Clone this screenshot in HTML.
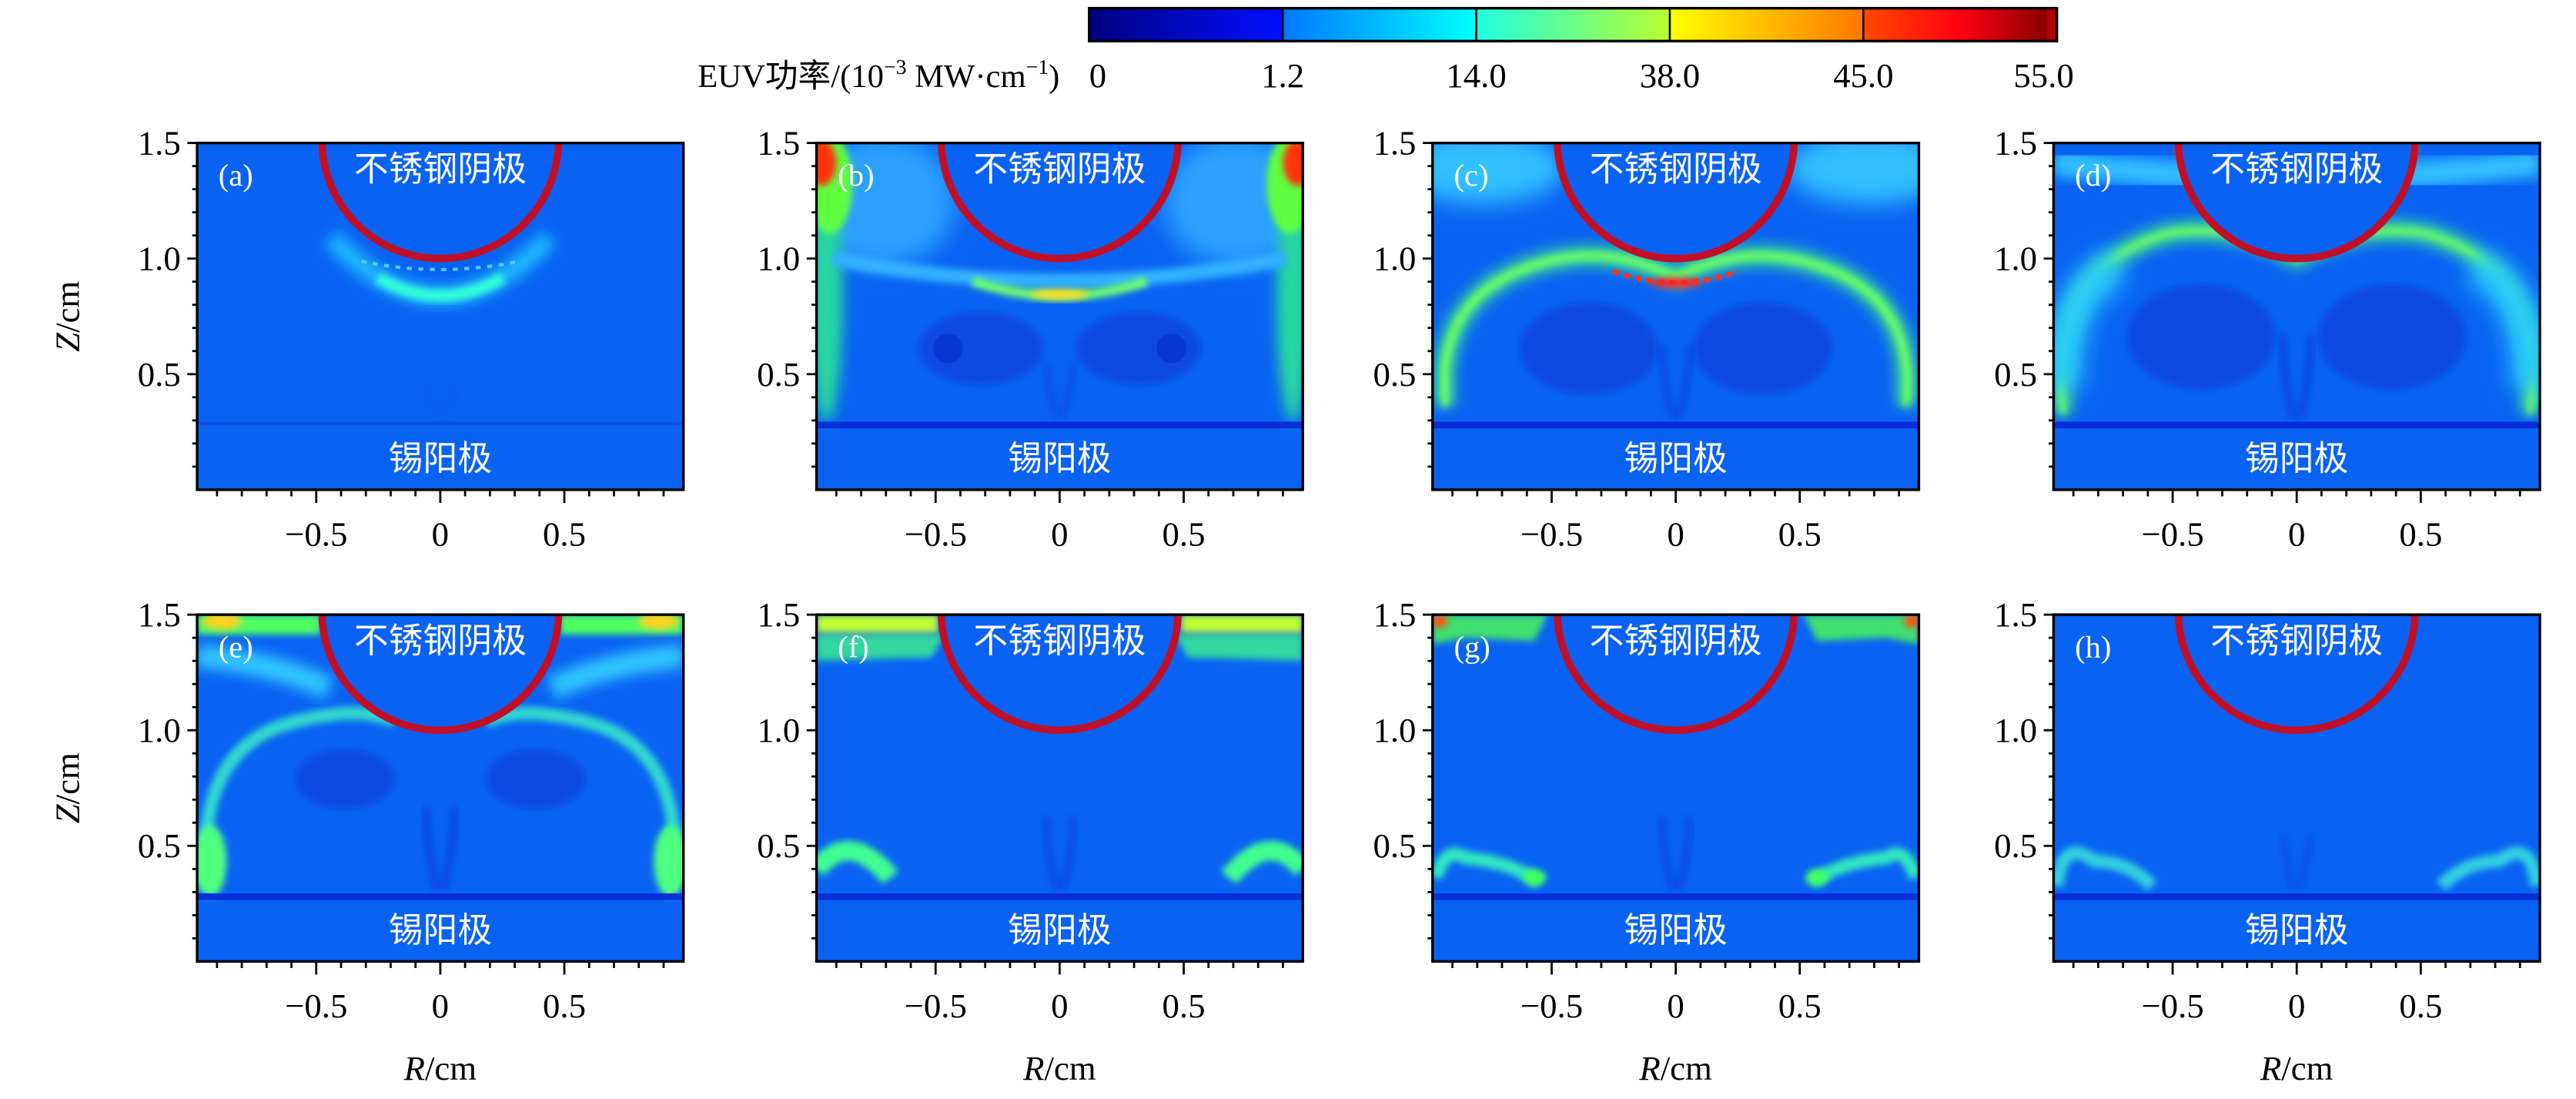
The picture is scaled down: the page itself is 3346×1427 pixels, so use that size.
<!DOCTYPE html>
<html><head><meta charset="utf-8"><style>
html,body{margin:0;padding:0;background:#fff;}
svg{display:block;}
text{font-family:"Liberation Serif","Noto Serif CJK SC",serif;}
.cjk{font-family:"Liberation Sans","Noto Sans CJK SC",sans-serif;}
</style></head><body>
<svg id="fig" width="3346" height="1427" viewBox="0 0 1568 668.7" preserveAspectRatio="none" xmlns="http://www.w3.org/2000/svg">
<defs>
<filter id="b2" x="-50%" y="-50%" width="200%" height="200%"><feGaussianBlur stdDeviation="2"/></filter>
<filter id="b4" x="-50%" y="-50%" width="200%" height="200%"><feGaussianBlur stdDeviation="4"/></filter>
<filter id="b7" x="-50%" y="-50%" width="200%" height="200%"><feGaussianBlur stdDeviation="7"/></filter>
<linearGradient id="cbg" x1="0" x2="1" y1="0" y2="0">
<stop offset="0" stop-color="#000080"/><stop offset="0.2" stop-color="#0010ff"/>
<stop offset="0.2" stop-color="#0078ff"/><stop offset="0.4" stop-color="#00ffff"/>
<stop offset="0.4" stop-color="#20ffe0"/><stop offset="0.6" stop-color="#b8ff30"/>
<stop offset="0.6" stop-color="#ffff00"/><stop offset="0.8" stop-color="#ff7800"/>
<stop offset="0.8" stop-color="#ff4a00"/><stop offset="0.9" stop-color="#ff0010"/><stop offset="0.99" stop-color="#880000"/>
<stop offset="0.99" stop-color="#b00000"/><stop offset="1" stop-color="#b00000"/>
</linearGradient>
</defs>
<g id="colorbar"></g>
<g id="panels"></g>
</svg>
<script>
const NS="http://www.w3.org/2000/svg";
const cbTicks=["0","1.2","14.0","38.0","45.0","55.0"];
const panelLabels=["(a)","(b)","(c)","(d)","(e)","(f)","(g)","(h)"];
const zTicks=[0.5,1.0,1.5];
const zTickLabels=["0.5","1.0","1.5"];
const rTicks=[-0.5,0,0.5];
const rTickLabels=["\u22120.5","0","0.5"];
const zRange=[0,1.5];
const rRange=[-0.98,0.98];
const cathodeBottomZ=1.0;
const anodeZ=0.28;

const colX=[120,497,872,1250], rowY=[87,374], W=296, H=211;
function sx(r){return (r-rRange[0])/(rRange[1]-rRange[0])*W;}
function sy(z){return (zRange[1]-z)/(zRange[1]-zRange[0])*H;}
function el(tag,attrs,parent){const e=document.createElementNS(NS,tag);for(const k in attrs)e.setAttribute(k,attrs[k]);if(parent)parent.appendChild(e);return e;}

const cb=document.getElementById('colorbar');
const cbx=663,cbw=589,cby=5,cbh=20;
const cbRect=el('rect',{x:cbx,y:cby,width:cbw,height:cbh,fill:'url(#cbg)',stroke:'#000','stroke-width':1.6},cb);


cbTicks.forEach((t,i)=>{
  const x=cbx+i*cbw/5;
  if(i>0&&i<5){const l=el('line',{x1:x,x2:x,y1:cby,y2:cby+cbh,stroke:'#000','stroke-width':1.2},cb);
    
    }
  const tx=el('text',{x:i==5?x-8:x,y:53,'font-size':21,'text-anchor':i==0?'start':'middle'},cb);
  tx.textContent=t;
  
  
});
const cbl=el('text',{x:645,y:53,'font-size':20,'text-anchor':'end'},cb);
cbl.innerHTML='EUV<tspan class="cjk">功率</tspan>/(10<tspan font-size="13" dy="-8">\u22123</tspan><tspan dy="8"> MW\u00b7cm</tspan><tspan font-size="13" dy="-8">\u22121</tspan><tspan dy="8">)</tspan>';



const feats=[
`<path d="M82 58 Q148 128 214 58" stroke="#1ab8ff" stroke-width="12" fill="none" filter="url(#b4)"/>
<path d="M110 82 Q148 104 186 82" stroke="#30ffd8" stroke-width="7" fill="none" filter="url(#b2)"/>
<path d="M100 72 Q148 82 196 72" stroke="#5ac8ff" stroke-width="2" fill="none" stroke-dasharray="3 4"/>`,
`<ellipse cx="40" cy="35" rx="45" ry="40" fill="#2aa0ff" filter="url(#b7)"/><ellipse cx="256" cy="35" rx="45" ry="40" fill="#2aa0ff" filter="url(#b7)"/>
<ellipse cx="6" cy="95" rx="10" ry="75" fill="#28d8a0" filter="url(#b4)"/><ellipse cx="290" cy="95" rx="10" ry="75" fill="#28d8a0" filter="url(#b4)"/>
<ellipse cx="8" cy="25" rx="14" ry="30" fill="#60ff40" filter="url(#b2)"/><ellipse cx="288" cy="25" rx="14" ry="30" fill="#60ff40" filter="url(#b2)"/>
<ellipse cx="3" cy="12" rx="9" ry="14" fill="#ff3010" filter="url(#b2)"/><ellipse cx="293" cy="12" rx="9" ry="14" fill="#ff3010" filter="url(#b2)"/>
<path d="M10 70 Q148 98 286 70" stroke="#30b0ff" stroke-width="9" fill="none" filter="url(#b2)"/>
<path d="M95 84 Q148 102 201 84" stroke="#70ff70" stroke-width="6" fill="none" filter="url(#b2)"/>
<ellipse cx="148" cy="92" rx="18" ry="3" fill="#ffe020" filter="url(#b2)"/>
<ellipse cx="100" cy="125" rx="38" ry="22" fill="#0a48e0" filter="url(#b2)"/><ellipse cx="196" cy="125" rx="38" ry="22" fill="#0a48e0" filter="url(#b2)"/>
<ellipse cx="80" cy="125" rx="9" ry="9" fill="#0836d0"/><ellipse cx="216" cy="125" rx="9" ry="9" fill="#0836d0"/>`,
`<ellipse cx="30" cy="15" rx="50" ry="22" fill="#30c0ff" filter="url(#b7)"/><ellipse cx="266" cy="15" rx="50" ry="22" fill="#30c0ff" filter="url(#b7)"/>
<path d="M8 160 Q0 90 70 72 Q110 62 148 82 Q186 62 226 72 Q296 90 288 160" stroke="#40e090" stroke-width="12" fill="none" filter="url(#b4)"/>
<path d="M8 160 Q0 90 70 72 Q110 62 148 82 Q186 62 226 72 Q296 90 288 160" stroke="#70ff60" stroke-width="4" fill="none" filter="url(#b2)"/>
<path d="M110 78 Q148 92 186 78" stroke="#ff3020" stroke-width="3" fill="none" stroke-dasharray="4 3"/>
<ellipse cx="148" cy="85" rx="16" ry="3" fill="#ff2020" filter="url(#b2)"/>
<ellipse cx="95" cy="125" rx="42" ry="28" fill="#0a48e0" filter="url(#b2)"/><ellipse cx="201" cy="125" rx="42" ry="28" fill="#0a48e0" filter="url(#b2)"/>`,
`<path d="M0 12 Q148 30 296 12" stroke="#30c0ff" stroke-width="16" fill="none" filter="url(#b4)"/>
<ellipse cx="85" cy="6" rx="10" ry="8" fill="#ff6010" filter="url(#b2)"/><ellipse cx="211" cy="6" rx="10" ry="8" fill="#ff6010" filter="url(#b2)"/>
<path d="M6 165 Q-4 75 70 55 Q110 48 148 70 Q186 48 226 55 Q300 75 290 165" stroke="#40e090" stroke-width="12" fill="none" filter="url(#b4)"/>
<path d="M6 165 Q-4 75 70 55 Q110 48 148 70 Q186 48 226 55 Q300 75 290 165" stroke="#78ff60" stroke-width="3" fill="none" filter="url(#b2)"/>
<path d="M6 150 Q4 90 40 75" stroke="#28c8ff" stroke-width="22" fill="none" filter="url(#b7)"/><path d="M290 150 Q292 90 256 75" stroke="#28c8ff" stroke-width="22" fill="none" filter="url(#b7)"/>
<ellipse cx="90" cy="118" rx="45" ry="32" fill="#0a48e0" filter="url(#b2)"/><ellipse cx="206" cy="118" rx="45" ry="32" fill="#0a48e0" filter="url(#b2)"/>`,
`<rect x="0" y="0" width="75" height="12" fill="#50ff60" filter="url(#b2)"/><rect x="221" y="0" width="75" height="12" fill="#50ff60" filter="url(#b2)"/>
<ellipse cx="15" cy="4" rx="12" ry="5" fill="#ffd020" filter="url(#b2)"/><ellipse cx="281" cy="4" rx="12" ry="5" fill="#ffd020" filter="url(#b2)"/>
<path d="M0 25 Q50 30 80 45" stroke="#30c8ff" stroke-width="14" fill="none" filter="url(#b4)"/><path d="M296 25 Q246 30 216 45" stroke="#30c8ff" stroke-width="14" fill="none" filter="url(#b4)"/>
<path d="M6 165 Q-2 80 60 65 Q100 55 120 65" stroke="#30d8d0" stroke-width="8" fill="none" filter="url(#b2)"/><path d="M290 165 Q298 80 236 65 Q196 55 176 65" stroke="#30d8d0" stroke-width="8" fill="none" filter="url(#b2)"/>
<ellipse cx="8" cy="150" rx="10" ry="22" fill="#50ff80" filter="url(#b2)"/><ellipse cx="288" cy="150" rx="10" ry="22" fill="#50ff80" filter="url(#b2)"/>
<ellipse cx="90" cy="100" rx="30" ry="18" fill="#0a48e0" filter="url(#b2)"/><ellipse cx="206" cy="100" rx="30" ry="18" fill="#0a48e0" filter="url(#b2)"/>`,
`<path d="M0 12 L78 12 L70 26 L0 28 Z" fill="#30d8a0" filter="url(#b2)"/><path d="M296 12 L218 12 L226 26 L296 28 Z" fill="#30d8a0" filter="url(#b2)"/>
<rect x="0" y="0" width="74" height="11" fill="#c0ff30" filter="url(#b2)"/><rect x="222" y="0" width="74" height="11" fill="#c0ff30" filter="url(#b2)"/>
<path d="M0 155 Q20 130 45 160" stroke="#40ff90" stroke-width="12" fill="none" filter="url(#b2)"/><path d="M296 155 Q276 130 251 160" stroke="#40ff90" stroke-width="12" fill="none" filter="url(#b2)"/>`,
`<path d="M0 0 L70 0 L62 16 L20 14 L0 18 Z" fill="#40e070" filter="url(#b2)"/><path d="M296 0 L226 0 L234 16 L276 14 L296 18 Z" fill="#40e070" filter="url(#b2)"/>
<ellipse cx="4" cy="4" rx="5" ry="4" fill="#ff5010" filter="url(#b2)"/><ellipse cx="292" cy="4" rx="5" ry="4" fill="#ff5010" filter="url(#b2)"/>
<path d="M2 160 Q8 140 20 148 Q45 150 65 162" stroke="#30e8c0" stroke-width="8" fill="none" filter="url(#b2)"/><path d="M294 160 Q288 140 276 148 Q251 150 231 162" stroke="#30e8c0" stroke-width="8" fill="none" filter="url(#b2)"/>
<ellipse cx="62" cy="160" rx="7" ry="5" fill="#40ff60" filter="url(#b2)"/><ellipse cx="234" cy="160" rx="7" ry="5" fill="#40ff60" filter="url(#b2)"/>`,
`<ellipse cx="90" cy="2" rx="8" ry="4" fill="#30c8ff" filter="url(#b2)"/><ellipse cx="206" cy="2" rx="8" ry="4" fill="#30c8ff" filter="url(#b2)"/>
<path d="M2 165 Q5 135 25 150 Q45 150 60 165" stroke="#30d0e0" stroke-width="8" fill="none" filter="url(#b2)"/><path d="M294 165 Q291 135 271 150 Q251 150 236 165" stroke="#30d0e0" stroke-width="8" fill="none" filter="url(#b2)"/>`
];
const streaks=[0.1,0.5,0.7,0.8,0.8,0.7,0.7,0.5];

const P=document.getElementById('panels');
for(let i=0;i<8;i++){
  const row=Math.floor(i/4),col=i%4;
  const g=el('g',{transform:`translate(${colX[col]},${rowY[row]})`},P);
  
  
  const cid='clip'+i;
  const cp=el('clipPath',{id:cid},g); el('rect',{x:0,y:0,width:W,height:H},cp);
  const hm=el('g',{'clip-path':`url(#${cid})`},g);
  
  
  el('rect',{x:0,y:0,width:W,height:H,fill:'#0a62f2'},hm);
  const fg=el('g',{},hm); fg.innerHTML=feats[i];
  const s=streaks[i];
  const ay=sy(anodeZ), cx=sx(0);
  if(s>0){
    el('path',{d:`M${cx-2} ${ay-4} Q${cx-10} ${ay-40} ${cx-8} ${ay-62*s-5}`,stroke:'#0a3ee0','stroke-width':4,fill:'none',opacity:s,filter:'url(#b2)'},hm);
    el('path',{d:`M${cx+2} ${ay-4} Q${cx+10} ${ay-40} ${cx+8} ${ay-62*s-5}`,stroke:'#0a3ee0','stroke-width':4,fill:'none',opacity:s,filter:'url(#b2)'},hm);
  }
  const an=el('rect',{x:0,y:ay-2,width:W,height:i==0?2:4,fill:i==0?'#1050e0':'#0a2ed8'},hm);
  
  
  const r=72, cyc=sy(cathodeBottomZ)-r;
  const cat=el('circle',{cx:cx,cy:cyc,r:r,fill:'#0a62f2',stroke:'#c01028','stroke-width':4.5},hm);
  
  
  const t1=el('text',{x:cx,y:23,'font-size':21,fill:'#fff','text-anchor':'middle',class:'cjk'},g);
  t1.textContent='不锈钢阴极';
  
  
  const t2=el('text',{x:cx,y:199,'font-size':21,fill:'#fff','text-anchor':'middle',class:'cjk'},g);
  t2.textContent='锡阳极';
  
  
  const pl=el('text',{x:13,y:26,'font-size':19,fill:'#fff'},g);
  pl.textContent=panelLabels[i];
  
  
  const fr=el('rect',{x:0,y:0,width:W,height:H,fill:'none',stroke:'#000','stroke-width':1.6},g);
  
  
  for(let k=1;k<=15;k++){
    const z=k/10, y=sy(z), major=(k%5==0);
    el('line',{x1:major?-6:-3,x2:0,y1:y,y2:y,stroke:'#000','stroke-width':1.3},g);
  }
  zTicks.forEach((z,j)=>{
    const t=el('text',{x:-10,y:sy(z)+7,'font-size':21,'text-anchor':'end'},g);
    t.textContent=zTickLabels[j];
    
    
  });
  for(let k=-9;k<=9;k++){
    const x=sx(k/10), major=(k%5==0);
    el('line',{x1:x,x2:x,y1:H,y2:H+(major?8:4),stroke:'#000','stroke-width':1.3},g);
  }
  rTicks.forEach((rv,j)=>{
    const t=el('text',{x:sx(rv),y:H+34,'font-size':21,'text-anchor':'middle'},g);
    t.textContent=rTickLabels[j];
    
    
  });
  if(row==1){
    const xl=el('text',{x:cx,y:H+72,'font-size':21,'text-anchor':'middle'},g);
    xl.innerHTML='<tspan font-style="italic">R</tspan>/cm';
    
    
  }
  if(col==0){
    const yl=el('text',{x:0,y:0,'font-size':21,'text-anchor':'middle',transform:`translate(-72,${H/2}) rotate(-90)`},g);
    yl.innerHTML='<tspan font-style="italic">Z</tspan>/cm';
    
    
  }
}
</script>
</body></html>
